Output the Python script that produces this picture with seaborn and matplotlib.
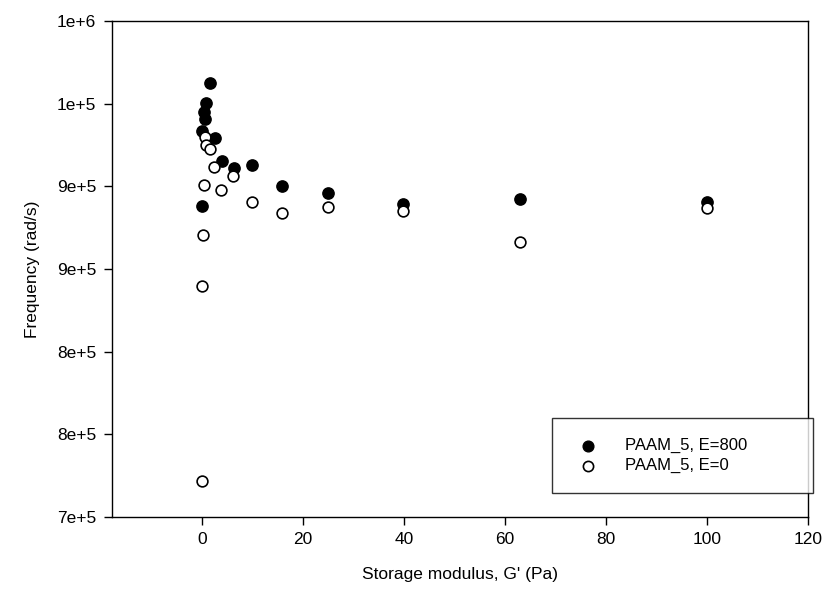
import numpy as np
import pandas as pd
import seaborn as sns

import matplotlib.pyplot as plt

# PAAM_5, E=800 (filled)
g_e800 = [1.58, 0.87, 0.34, 0.53, 0.0, 2.5, 3.9, 6.3, 9.9, 0.05,
          15.8, 25.0, 39.8, 63.0, 100.0]
f_e800 = [962700, 950600, 945100, 940700, 933700, 929100, 915500, 911300,
          912700, 888300, 900200, 895800, 889300, 892300, 890700]

# PAAM_5, E=0 (open)
g_e0 = [0.53, 0.87, 1.52, 2.37, 6.2, 0.34, 3.84, 9.9, 0.1, 0.05, 0.02,
        15.8, 25.0, 39.8, 63.0, 100.0]
f_e0 = [930000, 925000, 922400, 911700, 906100, 900800, 897800, 890700,
        870600, 839700, 722000, 884100, 887700, 884900, 866300, 886700]

y_ticks = [700000, 750000, 800000, 850000, 900000, 950000, 1000000]
y_labels = ['7e+5', '8e+5', '8e+5', '9e+5', '9e+5', '1e+5', '1e+6']
x_ticks = [0, 20, 40, 60, 80, 100, 120]


def main():
    sns.set_style('white')
    plt.rcParams['font.family'] = ['Liberation Sans', 'DejaVu Sans']
    plt.rcParams['text.color'] = 'black'
    plt.rcParams['axes.labelcolor'] = 'black'
    plt.rcParams['xtick.color'] = 'black'
    plt.rcParams['ytick.color'] = 'black'

    fig = plt.figure(figsize=(8.27, 6.08), dpi=100)
    ax = fig.add_axes([0.135, 0.1497, 0.842, 0.8158])

    sns.scatterplot(x=g_e800, y=f_e800, ax=ax, color='black',
                    edgecolor='black', s=66, linewidth=1.0,
                    label='PAAM_5, E=800', zorder=3)
    sns.scatterplot(x=g_e0, y=f_e0, ax=ax, color='white',
                    edgecolor='black', s=60, linewidth=1.2,
                    label='PAAM_5, E=0', zorder=3)

    ax.set_xlim(-17.9, 120)
    ax.set_ylim(700000, 1000000)
    ax.set_xticks(x_ticks)
    ax.set_xticklabels([str(t) for t in x_ticks])
    ax.set_yticks(y_ticks)
    ax.set_yticklabels(y_labels)

    for side in ['left', 'bottom', 'top', 'right']:
        ax.spines[side].set_color('black')
        ax.spines[side].set_linewidth(1.0)
    ax.tick_params(axis='both', direction='out', length=6, width=1,
                   color='black', labelcolor='black', labelsize=12.5, pad=5,
                   left=True, bottom=True, top=False, right=False)

    ax.set_xlabel("Storage modulus, G' (Pa)", fontsize=12.5, labelpad=14,
                  color='black')
    ax.set_ylabel('Frequency (rad/s)', fontsize=12.5, labelpad=12,
                  color='black')

    leg = ax.legend(loc='lower left', bbox_to_anchor=(0.632, 0.048, 0.375, 0.152),
                    mode='expand', borderaxespad=0, fontsize=12,
                    frameon=True, fancybox=False, handletextpad=1.2,
                    borderpad=1.2, labelspacing=0.3, markerscale=0.95)
    leg.get_frame().set_edgecolor('black')
    leg.get_frame().set_linewidth(1.0)
    for t in leg.get_texts():
        t.set_color('black')

    plt.savefig('out.png', dpi=100)


if __name__ == "__main__":
    main()
